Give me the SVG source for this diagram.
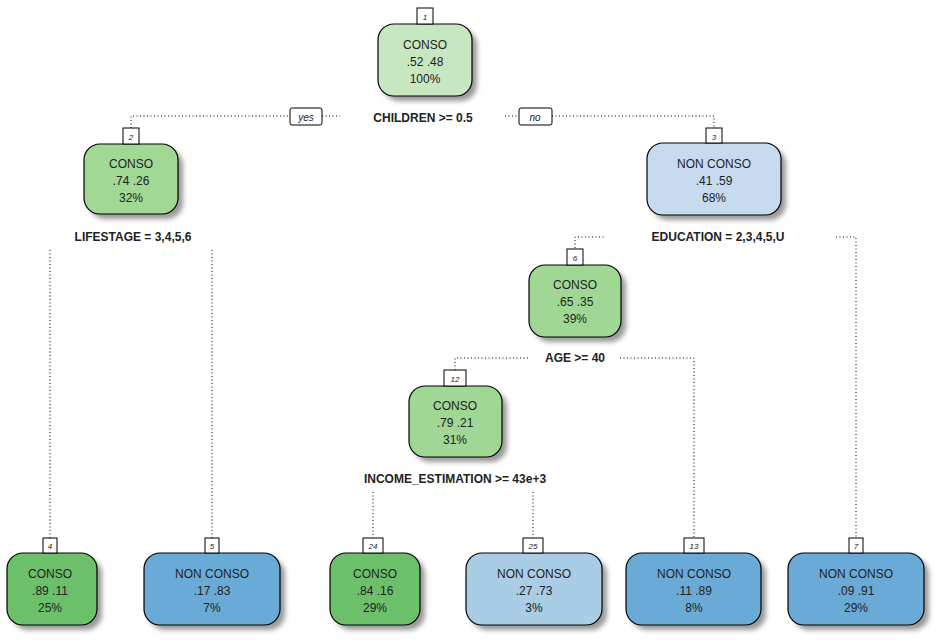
<svg xmlns="http://www.w3.org/2000/svg" width="945" height="644" viewBox="0 0 945 644">
<defs><filter id="sh" x="-20%" y="-20%" width="150%" height="150%"><feGaussianBlur stdDeviation="2.5"/></filter></defs>
<style>
text{font-family:"Liberation Sans",Arial,sans-serif;font-size:12px;fill:#222;text-anchor:middle}
.b{stroke:#000;stroke-width:1.2}
.s{fill:#999;filter:url(#sh)}
.n{fill:#fff;stroke:#000;stroke-width:1}
.nt{font-size:8px;font-style:italic}
.sp{font-weight:bold;font-size:12px}
.c{fill:none;stroke:#000;stroke-width:1;stroke-dasharray:1,2.5}
</style>
<rect width="945" height="644" fill="#fff"/>
<g id="connectors" class="c">
<path d="M131 128V116H290M322 116H340"/>
<path d="M505 116H519M552 116H714V128"/>
<path d="M50 250V538M212 250V538"/>
<path d="M575 248V237H604M836 237H856V538"/>
<path d="M455 370V358H530M620 358H694V538"/>
<path d="M373 492V538M533 492V538"/>
</g>
<g><rect x="290" y="108" width="32" height="17" rx="2" class="n"/><text x="306" y="121" class="nt" style="font-size:10px">yes</text>
<rect x="519" y="108" width="33" height="17" rx="2" class="n"/><text x="535" y="121" class="nt" style="font-size:10px">no</text></g>
<text x="423" y="122" class="sp">CHILDREN &gt;= 0.5</text>
<text x="133" y="241" class="sp">LIFESTAGE = 3,4,5,6</text>
<text x="718" y="241" class="sp">EDUCATION = 2,3,4,5,U</text>
<text x="575" y="362" class="sp">AGE &gt;= 40</text>
<text x="455" y="483" class="sp">INCOME_ESTIMATION &gt;= 43e+3</text>
<g id="n1"><rect x="383" y="29" width="94" height="72" rx="16" class="s"/><rect x="378" y="24" width="94" height="72" rx="16" fill="#c7e7c0" class="b"/><rect x="417" y="8" width="16" height="16" class="n"/><text x="425" y="20" class="nt">1</text><text x="425" y="49">CONSO</text><text x="425" y="66">.52  .48</text><text x="425" y="83">100%</text></g>
<g id="n2"><rect x="89" y="149" width="94" height="70" rx="16" class="s"/><rect x="84" y="144" width="94" height="70" rx="16" fill="#a0d894" class="b"/><rect x="123" y="128" width="16" height="16" class="n"/><text x="131" y="140" class="nt">2</text><text x="131" y="168">CONSO</text><text x="131" y="185">.74  .26</text><text x="131" y="202">32%</text></g>
<g id="n3"><rect x="652" y="148" width="134" height="72" rx="16" class="s"/><rect x="647" y="143" width="134" height="72" rx="16" fill="#c6dbf0" class="b"/><rect x="706" y="128" width="16" height="15" class="n"/><text x="714" y="140" class="nt">3</text><text x="714" y="168">NON CONSO</text><text x="714" y="185">.41  .59</text><text x="714" y="202">68%</text></g>
<g id="n6"><rect x="534" y="270" width="92" height="72" rx="16" class="s"/><rect x="529" y="265" width="92" height="72" rx="16" fill="#a0d794" class="b"/><rect x="567" y="249" width="16" height="16" class="n"/><text x="575" y="261" class="nt">6</text><text x="575" y="289">CONSO</text><text x="575" y="306">.65  .35</text><text x="575" y="323">39%</text></g>
<g id="n12"><rect x="414" y="391" width="93" height="71" rx="16" class="s"/><rect x="409" y="386" width="93" height="71" rx="16" fill="#a0d794" class="b"/><rect x="444" y="370" width="22" height="16" class="n"/><text x="455" y="382" class="nt">12</text><text x="455" y="410">CONSO</text><text x="455" y="427">.79  .21</text><text x="455" y="444">31%</text></g>
<g id="n4"><rect x="12" y="558" width="90" height="72" rx="16" class="s"/><rect x="7" y="553" width="90" height="72" rx="16" fill="#6dc06a" class="b"/><rect x="43" y="538" width="14" height="15" class="n"/><text x="50" y="549" class="nt">4</text><text x="50" y="578">CONSO</text><text x="50" y="595">.89  .11</text><text x="50" y="612">25%</text></g>
<g id="n5"><rect x="149" y="558" width="136" height="72" rx="16" class="s"/><rect x="144" y="553" width="136" height="72" rx="16" fill="#69aad6" class="b"/><rect x="205" y="538" width="14" height="15" class="n"/><text x="212" y="549" class="nt">5</text><text x="212" y="578">NON CONSO</text><text x="212" y="595">.17  .83</text><text x="212" y="612">7%</text></g>
<g id="n24"><rect x="335" y="558" width="90" height="72" rx="16" class="s"/><rect x="330" y="553" width="90" height="72" rx="16" fill="#6dc06a" class="b"/><rect x="363" y="538" width="20" height="15" class="n"/><text x="373" y="549" class="nt">24</text><text x="375" y="578">CONSO</text><text x="375" y="595">.84  .16</text><text x="375" y="612">29%</text></g>
<g id="n25"><rect x="471" y="558" width="136" height="72" rx="16" class="s"/><rect x="466" y="553" width="136" height="72" rx="16" fill="#a8cde5" class="b"/><rect x="523" y="538" width="20" height="15" class="n"/><text x="533" y="549" class="nt">25</text><text x="534" y="578">NON CONSO</text><text x="534" y="595">.27  .73</text><text x="534" y="612">3%</text></g>
<g id="n13"><rect x="631" y="558" width="135" height="72" rx="16" class="s"/><rect x="626" y="553" width="135" height="72" rx="16" fill="#69aad6" class="b"/><rect x="684" y="538" width="20" height="15" class="n"/><text x="694" y="549" class="nt">13</text><text x="694" y="578">NON CONSO</text><text x="694" y="595">.11  .89</text><text x="694" y="612">8%</text></g>
<g id="n7"><rect x="793" y="558" width="136" height="72" rx="16" class="s"/><rect x="788" y="553" width="136" height="72" rx="16" fill="#69aad6" class="b"/><rect x="849" y="538" width="14" height="15" class="n"/><text x="856" y="549" class="nt">7</text><text x="856" y="578">NON CONSO</text><text x="856" y="595">.09  .91</text><text x="856" y="612">29%</text></g>
</svg>
